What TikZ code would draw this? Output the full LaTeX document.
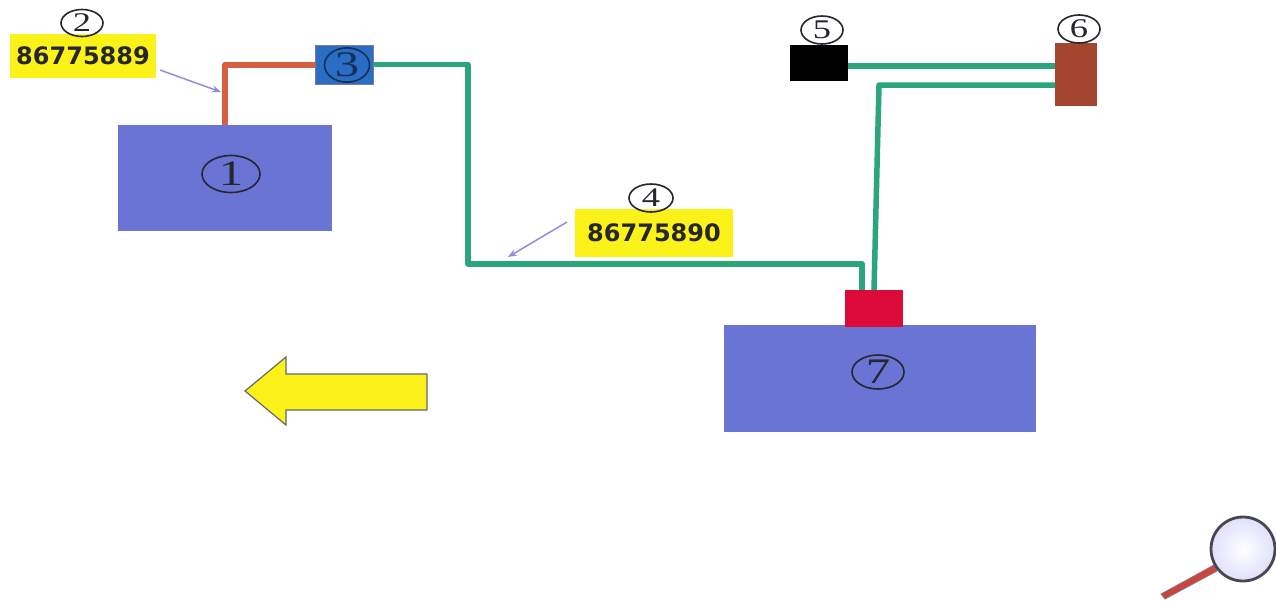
\documentclass[tikz,border=0pt]{standalone}
\usepackage{graphicx}
\usepackage{fontspec}
\setmainfont{Liberation Serif}
\newfontfamily\tagfont[Scale=1]{DejaVu Sans}
\usetikzlibrary{shapes.geometric,arrows.meta}
\definecolor{boxblue}{HTML}{6A74D4}
\definecolor{wiregreen}{HTML}{2BA57C}
\definecolor{wirered}{HTML}{D4603F}
\definecolor{blockblue}{HTML}{2B6CC4}
\definecolor{blockbrown}{HTML}{A4452F}
\definecolor{blockred}{HTML}{DC0A38}
\definecolor{tagyellow}{HTML}{FBF21A}
\definecolor{leader}{HTML}{8E8FD8}
\definecolor{ink}{HTML}{26262E}
\newcommand{\widedigit}[1]{\scalebox{1.35}[1]{#1}}
\tikzset{
  blockbox/.style={rectangle,inner sep=0pt,outer sep=0pt,draw=none},
  bigbox/.style={blockbox,fill=boxblue},
  tagbox/.style={blockbox,fill=tagyellow,text=ink,font=\tagfont\bfseries\fontsize{24}{24}\selectfont},
  numoval/.style={ellipse,inner sep=0pt,outer sep=0pt,draw=ink,line width=1.6pt,fill=none,text=ink,font=\fontsize{27}{27}\selectfont},
  bigdigit/.style={font=\fontsize{36}{36}\selectfont},
  greenwire/.style={draw=wiregreen,line width=5.5pt,line join=round},
  redwire/.style={draw=wirered,line width=6pt,line join=round},
  leaderline/.style={draw=leader,line width=1.5pt,-{Stealth[length=9pt,width=7pt]}}
}
\begin{document}
\begin{tikzpicture}[x=1pt,y=-1pt]
\useasboundingbox[fill=white] (0,0) rectangle (1276,600);
% blocks
\node[bigbox,minimum width=214pt,minimum height=106pt] (b1) at (225,178) {};
\node[bigbox,minimum width=312pt,minimum height=107pt] (b7) at (880,378.5) {};
\node[blockbox,fill=blockblue,draw=ink!60,line width=.5pt,minimum width=58pt,minimum height=39pt] (b3) at (344,64.5) {};
\node[blockbox,fill=black,minimum width=58pt,minimum height=36pt] (b5) at (819,62.5) {};
\node[blockbox,fill=blockbrown,minimum width=42pt,minimum height=63pt] (b6) at (1076,74.5) {};
\node[blockbox,fill=blockred,minimum width=58pt,minimum height=37pt] (br) at (874,308.5) {};
% tags
\node[tagbox,minimum width=146pt,minimum height=44pt] (t2) at (83,56) {86775889};
\node[tagbox,minimum width=158pt,minimum height=48pt] (t4) at (654,233) {86775890};
% wires
\coordinate (g1) at (468,64.5);
\coordinate (g2) at (468,264);
\coordinate (g3) at (862,264);
\coordinate (g4) at (879,85);
\draw[redwire] (b1.north) |- (b3.west);
\draw[greenwire] (b3.east) -- (g1) -- (g2) -- (g3) -- ([xshift=-12pt]br.north);
\draw[greenwire] ([yshift=-3.5pt]b5.east) -- ([yshift=8.5pt]b6.west);
\draw[greenwire] ([yshift=-10.5pt]b6.west) -- (g4) -- (br.north);
% labels
\node[numoval,bigdigit,minimum width=58pt,minimum height=37pt] (n1) at (231,174) {\widedigit{1}};
\node[numoval,minimum width=42pt,minimum height=27pt] (n2) at (82,23) {\widedigit{2}};
\node[numoval,bigdigit,draw=blockblue!45!black,text=blockblue!45!black,minimum width=45pt,minimum height=30pt] (n3) at (347,65) {\widedigit{3}};
\node[numoval,minimum width=44pt,minimum height=28pt] (n4) at (651,198) {\widedigit{4}};
\node[numoval,minimum width=42pt,minimum height=28pt] (n5) at (822,30) {\widedigit{5}};
\node[numoval,minimum width=42pt,minimum height=28pt] (n6) at (1079,29) {\widedigit{6}};
\node[numoval,bigdigit,minimum width=52pt,minimum height=34pt] (n7) at (878,372) {\widedigit{7}};
% leaders
\coordinate (l2) at (221,92);
\coordinate (l4) at (508,257);
\draw[leaderline] ([xshift=4pt,yshift=-14pt]t2.east) -- (l2);
\draw[leaderline] ([xshift=-8pt,yshift=11pt]t4.west) -- (l4);
% big arrow
\draw[fill=tagyellow,draw=ink!70,line width=1.2pt,line join=miter]
  (427,374) -- (286,374) -- (286,357) -- (245,391) -- (286,425) -- (286,410) -- (427,410) -- cycle;
% magnifier
\draw[draw=ink!60,line width=.8pt,fill=wirered!70!purple,line cap=round]
  (1161,594) -- (1214,565) -- (1217,571) -- (1165,599) -- cycle;
\shade[inner color=white,outer color=blue!12!white] (1243,549) circle[radius=31pt];
\draw[draw=ink!85,line width=2.8pt] (1243,549) circle[radius=32pt];
\end{tikzpicture}
\end{document}
